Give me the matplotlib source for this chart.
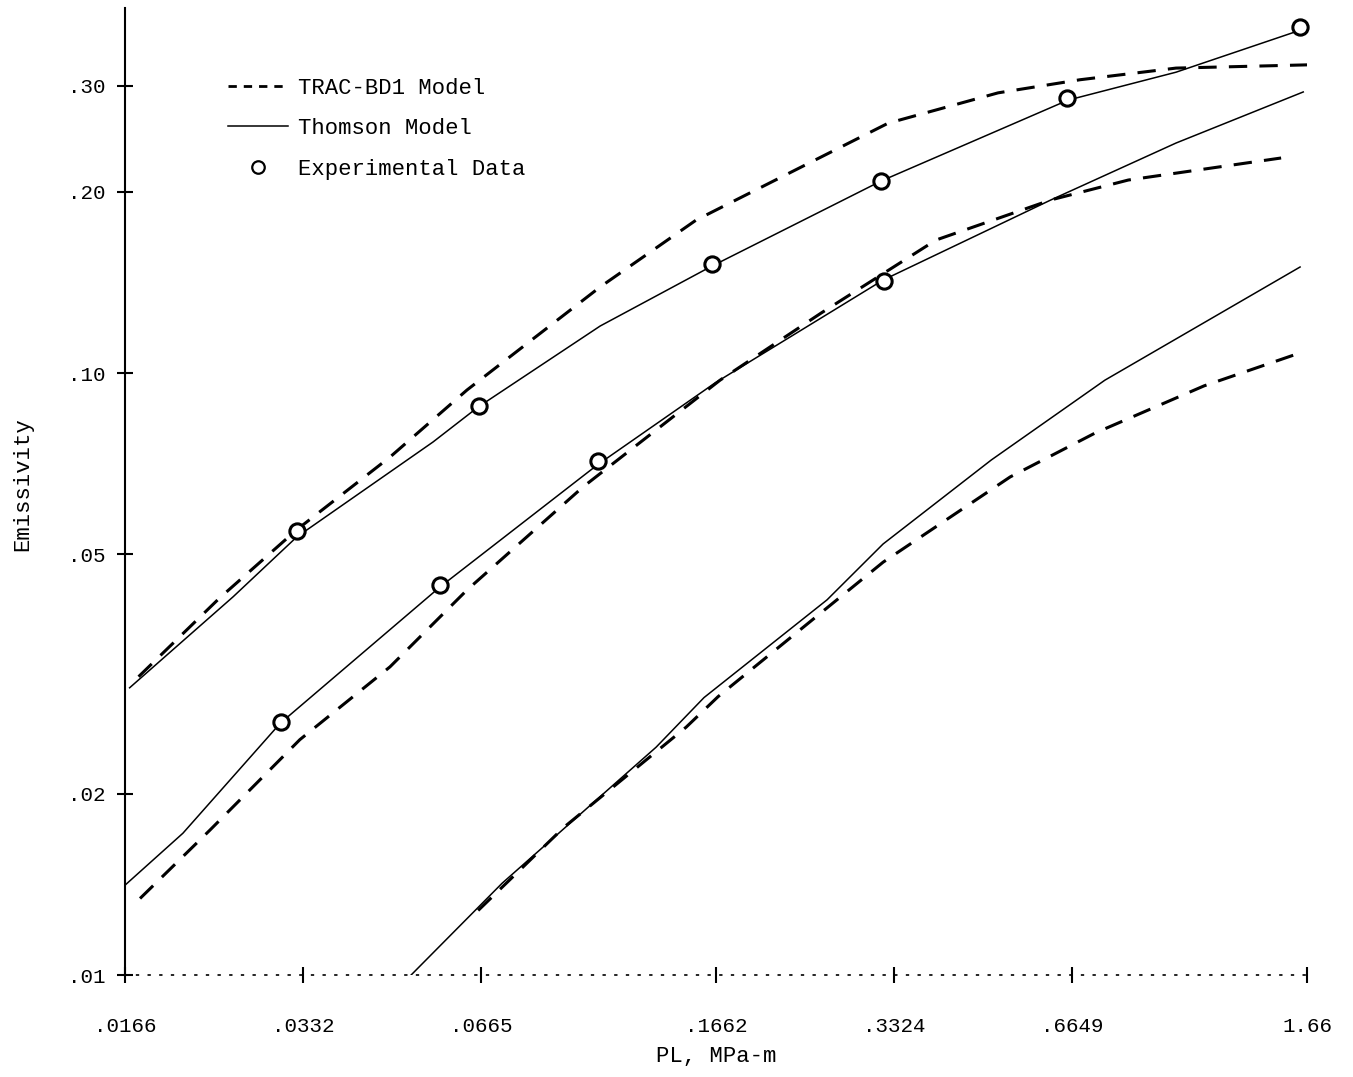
import matplotlib
matplotlib.use("Agg")
import matplotlib.pyplot as plt

plt.rcParams['font.family'] = ['Liberation Mono', 'DejaVu Sans Mono']

# emissivity vs PL (three curve pairs)
top_thomson_x = [0.0169, 0.0253, 0.0324, 0.0551, 0.0657, 0.1057, 0.1622, 0.3157, 0.654, 0.996, 1.615]
top_thomson_y = [0.0300, 0.0425, 0.0534, 0.0768, 0.0878, 0.1197, 0.150, 0.2084, 0.284, 0.316, 0.371]
top_trac_x = [0.0175, 0.0240, 0.0324, 0.0466, 0.0629, 0.1057, 0.1536, 0.250, 0.3245, 0.498, 0.685, 0.996, 1.66]
top_trac_y = [0.0313, 0.0423, 0.0549, 0.0725, 0.0937, 0.139, 0.1795, 0.2285, 0.260, 0.292, 0.307, 0.321, 0.325]

mid_thomson_x = [0.0166, 0.0208, 0.0304, 0.0566, 0.1044, 0.1654, 0.3182, 0.612, 0.996, 1.635]
mid_thomson_y = [0.0141, 0.0172, 0.0262, 0.0441, 0.0703, 0.0963, 0.1427, 0.1939, 0.241, 0.293]
mid_trac_x = [0.0176, 0.0231, 0.0328, 0.0466, 0.0629, 0.0989, 0.1686, 0.250, 0.391, 0.612, 0.827, 1.50]
mid_trac_y = [0.0134, 0.0174, 0.0246, 0.0325, 0.0436, 0.0647, 0.0973, 0.1258, 0.1663, 0.1939, 0.2092, 0.2276]

bot_thomson_x = [0.0506, 0.0721, 0.1314, 0.1584, 0.2558, 0.3182, 0.485, 0.755, 1.615]
bot_thomson_y = [0.0100, 0.0142, 0.0239, 0.0289, 0.0420, 0.0520, 0.0717, 0.0973, 0.150]
bot_trac_x = [0.0657, 0.0918, 0.1477, 0.1673, 0.3182, 0.522, 0.727, 1.111, 1.615]
bot_trac_y = [0.0128, 0.0176, 0.0258, 0.0290, 0.0485, 0.0672, 0.0795, 0.0952, 0.108]

exp_x = [0.0324, 0.0659, 0.1634, 0.3157, 0.652, 1.615, 0.0305, 0.0566, 0.1048, 0.3194]
exp_y = [0.0546, 0.0881, 0.1517, 0.2084, 0.286, 0.376, 0.0263, 0.0444, 0.0714, 0.1422]

x_ticks = [0.0166, 0.0332, 0.0665, 0.1662, 0.3324, 0.6649, 1.66]
x_labels = ['.0166', '.0332', '.0665', '.1662', '.3324', '.6649', '1.66']
y_ticks = [0.01, 0.02, 0.05, 0.10, 0.20, 0.30]
y_labels = ['.01', '.02', '.05', '.10', '.20', '.30']

fig = plt.figure(figsize=(13.53, 10.77), dpi=100)
ax = fig.add_axes([0.0924, 0.0947, 0.8737, 0.8979])

dash = (0, (6, 4))
lw_d = 2.2
lw_s = 1.1

ax.plot(top_trac_x, top_trac_y, color='black', lw=lw_d, ls=dash)
ax.plot(top_thomson_x, top_thomson_y, color='black', lw=lw_s)
ax.plot(mid_trac_x, mid_trac_y, color='black', lw=lw_d, ls=dash)
ax.plot(mid_thomson_x, mid_thomson_y, color='black', lw=lw_s)
ax.plot(bot_trac_x, bot_trac_y, color='black', lw=lw_d, ls=dash)
ax.plot(bot_thomson_x, bot_thomson_y, color='black', lw=lw_s)
ax.plot(exp_x, exp_y, ls='none', marker='o', ms=11, mew=2.2, mfc='white', mec='black',
        zorder=5, clip_on=False)

# legend handles: short dashes like the typed "----" sample
h_trac, = ax.plot([], [], color='black', lw=2.0, ls=(0, (3, 2.5)), label='TRAC-BD1 Model')
h_thom, = ax.plot([], [], color='black', lw=lw_s, label='Thomson Model')
h_exp, = ax.plot([], [], ls='none', marker='o', ms=9, mew=1.6, mfc='white', mec='black',
                 label='Experimental Data')

ax.set_xscale('log')
ax.set_yscale('log')
ax.set_xlim(0.0166, 1.66)
ax.set_ylim(0.01, 0.404)

ax.set_xticks(x_ticks)
ax.set_xticklabels(x_labels)
ax.set_yticks(y_ticks)
ax.set_yticklabels(y_labels)
ax.minorticks_off()
ax.tick_params(axis='both', direction='inout', length=12, width=1.5, labelsize=15)
ax.tick_params(axis='x', pad=24)
ax.tick_params(axis='y', pad=8)

for s in ['top', 'right']:
    ax.spines[s].set_visible(False)
ax.spines['left'].set_linewidth(1.5)
ax.spines['bottom'].set_linewidth(1.2)
ax.spines['bottom'].set_linestyle((0, (1, 6)))

ax.set_xlabel('PL, MPa-m', fontsize=16)
ax.xaxis.set_label_coords(0.5, -0.073)
ax.set_ylabel('Emissivity', fontsize=16)
ax.yaxis.set_label_coords(-0.078, 0.508)

ax.legend(handles=[h_trac, h_thom, h_exp], loc='upper left', bbox_to_anchor=(0.087, 0.928),
          frameon=False, fontsize=16, handlelength=2.7, handletextpad=0.45, labelspacing=0.88,
          borderpad=0, borderaxespad=0)

plt.savefig("out.png", dpi=100)
